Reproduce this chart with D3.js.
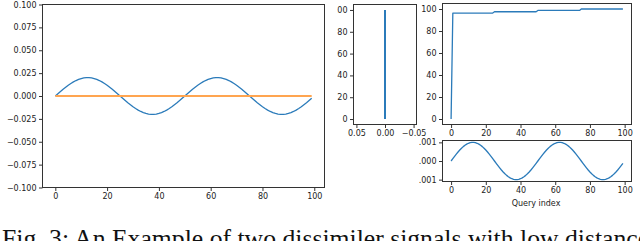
<!DOCTYPE html>
<html>
<head>
<meta charset="utf-8">
<script src="https://cdn.jsdelivr.net/npm/d3@7"></script>
<style>
  body { margin: 0; background: #fff; }
  .axis text { font-family: "DejaVu Sans", sans-serif; font-size: 8px; fill: #222; }
  .axis line { stroke: #333; }
  .axis path { display: none; }
  .caption { font-family: "Liberation Serif", "Times New Roman", serif; font-size: 25.7px; fill: #111; }
</style>
</head>
<body>
<div id="container"></div>
<script>
// set variables for further use
var canvasX = 640;
var canvasY = 241;

// signal values (query index 0..99)
var sineTop = [
    0, 0.0025, 0.0050, 0.0074, 0.0096, 0.0118, 0.0137, 0.0154, 0.0169, 0.0181,
    0.0190, 0.0197, 0.0200, 0.0200, 0.0197, 0.0190, 0.0181, 0.0169, 0.0154, 0.0137,
    0.0118, 0.0096, 0.0074, 0.0050, 0.0025, 0, -0.0025, -0.0050, -0.0074, -0.0096,
    -0.0118, -0.0137, -0.0154, -0.0169, -0.0181, -0.0190, -0.0197, -0.0200, -0.0200, -0.0197,
    -0.0190, -0.0181, -0.0169, -0.0154, -0.0137, -0.0118, -0.0096, -0.0074, -0.0050, -0.0025,
    0, 0.0025, 0.0050, 0.0074, 0.0096, 0.0118, 0.0137, 0.0154, 0.0169, 0.0181,
    0.0190, 0.0197, 0.0200, 0.0200, 0.0197, 0.0190, 0.0181, 0.0169, 0.0154, 0.0137,
    0.0118, 0.0096, 0.0074, 0.0050, 0.0025, 0, -0.0025, -0.0050, -0.0074, -0.0096,
    -0.0118, -0.0137, -0.0154, -0.0169, -0.0181, -0.0190, -0.0197, -0.0200, -0.0200, -0.0197,
    -0.0190, -0.0181, -0.0169, -0.0154, -0.0137, -0.0118, -0.0096, -0.0074, -0.0050, -0.0025
];
var flatX = [0, 99];
var flatY = [0, 0];

// vertical line in the narrow panel
var vertX = [0, 0];
var vertY = [0, 100];

// step curve (top right)
var stepX = [0, 1, 24, 25, 49, 50, 74, 75, 99];
var stepY = [0, 96.3, 96.3, 97.5, 97.5, 98.7, 98.7, 100, 100];

// difference signal (bottom right)
var sineBottom = [
    0, 0.000125, 0.000249, 0.000368, 0.000482, 0.000588, 0.000685, 0.000771, 0.000844, 0.000905,
    0.000951, 0.000982, 0.000998, 0.000998, 0.000982, 0.000951, 0.000905, 0.000844, 0.000771, 0.000685,
    0.000588, 0.000482, 0.000368, 0.000249, 0.000125, 0, -0.000125, -0.000249, -0.000368, -0.000482,
    -0.000588, -0.000685, -0.000771, -0.000844, -0.000905, -0.000951, -0.000982, -0.000998, -0.000998, -0.000982,
    -0.000951, -0.000905, -0.000844, -0.000771, -0.000685, -0.000588, -0.000482, -0.000368, -0.000249, -0.000125,
    0, 0.000125, 0.000249, 0.000368, 0.000482, 0.000588, 0.000685, 0.000771, 0.000844, 0.000905,
    0.000951, 0.000982, 0.000998, 0.000998, 0.000982, 0.000951, 0.000905, 0.000844, 0.000771, 0.000685,
    0.000588, 0.000482, 0.000368, 0.000249, 0.000125, 0, -0.000125, -0.000249, -0.000368, -0.000482,
    -0.000588, -0.000685, -0.000771, -0.000844, -0.000905, -0.000951, -0.000982, -0.000998, -0.000998, -0.000982,
    -0.000951, -0.000905, -0.000844, -0.000771, -0.000685, -0.000588, -0.000482, -0.000368, -0.000249, -0.000125
];

// tick values
var ticksTopY = [-0.1, -0.075, -0.05, -0.025, 0, 0.025, 0.05, 0.075, 0.1];
var ticksIndex = [0, 20, 40, 60, 80, 100];
var ticksNarrowX = [0.05, 0, -0.05];
var ticksCount = [0, 20, 40, 60, 80, 100];
var ticksBottomY = [-0.001, 0, 0.001];

var caption = "Fig. 3: An Example of two dissimiler signals with low distance";

var blue = "#2b7bba";
var orange = "#ffa550";

var svg = d3.select("#container")
            .append("svg")
            .attr("width", canvasX)
            .attr("height", canvasY);

var defs = svg.append("defs");

// minus sign like matplotlib
function fmt(digits) {
    return function(d) {
        return d3.format("." + digits + "f")(d).replace("-", "\u2212");
    };
}

// make one panel with axes (frame is drawn later, on top)
function makePanel(box, xDomain, yDomain, xTicks, yTicks, xFmt, yFmt, clip) {
    var g = svg.append("g");
    if (clip) {
        var id = "clip" + Math.round(box.x0) + "_" + Math.round(box.y0);
        defs.append("clipPath").attr("id", id)
            .append("rect")
            .attr("x", clip[0]).attr("y", clip[1])
            .attr("width", clip[2]).attr("height", clip[3]);
        g.attr("clip-path", "url(#" + id + ")");
    }

    var x = d3.scaleLinear().domain(xDomain).range([box.x0, box.x1]);
    var y = d3.scaleLinear().domain(yDomain).range([box.y1, box.y0]);

    g.append("g")
     .attr("class", "axis")
     .attr("transform", "translate(0," + box.y1 + ")")
     .call(d3.axisBottom(x).tickValues(xTicks).tickFormat(xFmt).tickSize(3.5).tickPadding(2.5));

    g.append("g")
     .attr("class", "axis")
     .attr("transform", "translate(" + box.x0 + ",0)")
     .call(d3.axisLeft(y).tickValues(yTicks).tickFormat(yFmt).tickSize(3.5).tickPadding(2.5));

    return { g: g, x: x, y: y, box: box };
}

function drawFrame(p) {
    p.g.append("rect")
       .attr("x", p.box.x0)
       .attr("y", p.box.y0)
       .attr("width", p.box.x1 - p.box.x0)
       .attr("height", p.box.y1 - p.box.y0)
       .attr("fill", "none")
       .attr("stroke", "#333")
       .attr("stroke-width", 1);
}

function drawLine(p, xs, ys, color, w) {
    var line = d3.line()
                 .x(function(d) { return p.x(d[0]); })
                 .y(function(d) { return p.y(d[1]); });
    p.g.append("path")
       .datum(xs.map(function(v, i) { return [v, ys[i]]; }))
       .attr("d", line)
       .attr("fill", "none")
       .attr("stroke", color)
       .attr("stroke-width", w)
       .attr("stroke-linejoin", "round");
}

var index = sineTop.map(function(d, i) { return i; });

// panel 1: two signals
var p1 = makePanel({ x0: 42.5, x1: 324.5, y0: 4.5, y1: 187.5 },
                   [-4.95, 103.95], [-0.1, 0.1], ticksIndex, ticksTopY,
                   fmt(0), fmt(3), null);
drawLine(p1, index, sineTop, blue, 1.3);
drawLine(p1, flatX, flatY, orange, 2);
drawFrame(p1);

// panel 2: narrow vertical line
var p2 = makePanel({ x0: 353.5, x1: 416.5, y0: 4.5, y1: 124.5 },
                   [0.0551, -0.0551], [-5, 105], ticksNarrowX, ticksCount,
                   fmt(2), fmt(0), [337, 0, 90, 145]);
drawLine(p2, vertX, vertY, blue, 2);
drawFrame(p2);

// panel 3: step curve
var p3 = makePanel({ x0: 442.5, x1: 631.5, y0: 3.5, y1: 124.5 },
                   [-4.95, 103.95], [-5, 105], ticksIndex, ticksCount,
                   fmt(0), fmt(0), [419, 0, 221, 137]);
drawLine(p3, stepX, stepY, blue, 1.3);
drawFrame(p3);

// panel 4: difference signal
var p4 = makePanel({ x0: 442.5, x1: 631.5, y0: 140.5, y1: 181.5 },
                   [-4.95, 103.95], [-0.0011, 0.0011], ticksIndex, ticksBottomY,
                   fmt(0), fmt(3), [419, 137, 221, 80]);
drawLine(p4, index, sineBottom, blue, 1.3);
drawFrame(p4);

// x label
svg.append("text")
   .attr("x", 536)
   .attr("y", 206)
   .attr("text-anchor", "middle")
   .attr("font-family", "DejaVu Sans, sans-serif")
   .attr("font-size", "8px")
   .attr("fill", "#222")
   .text("Query index");

// caption, cut by the bottom edge as in the reference
svg.append("text")
   .attr("class", "caption")
   .attr("x", 2)
   .attr("y", 247)
   .text(caption);
</script>
</body>
</html>
